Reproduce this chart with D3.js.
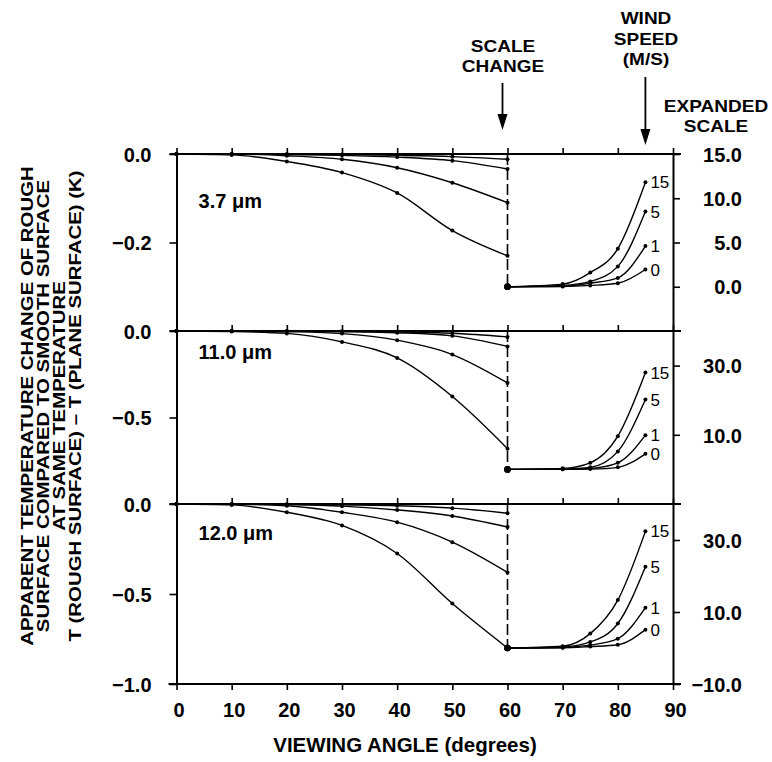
<!DOCTYPE html>
<html>
<head>
<meta charset="utf-8">
<script src="https://cdn.jsdelivr.net/npm/d3@7"></script>
<style>
  body { margin: 0; background: #fff; }
  svg { font-family: "Liberation Sans", Arial, Helvetica, sans-serif; }
</style>
</head>
<body>
<div id="chart"></div>
<script>
// Viewing angles (degrees): normal scale up to 60, expanded scale after
var anglesLeft = [0, 10, 20, 30, 40, 50, 60];
var anglesRight = [60, 70, 75, 80, 85];
var windSpeeds = ["0", "1", "5", "15"];
var bandNames = ["3.7 \u03bcm", "11.0 \u03bcm", "12.0 \u03bcm"];
var xTicks = [0, 10, 20, 30, 40, 50, 60, 70, 80, 90];

// T(rough) - T(plane) in K, one row per wind speed (0, 1, 5, 15 m/s)
var left37 = [
  [0, 0, 0, -0.001, -0.003, -0.006, -0.012],
  [0, 0, -0.001, -0.003, -0.007, -0.015, -0.034],
  [0, 0, -0.004, -0.012, -0.031, -0.065, -0.11],
  [0, -0.002, -0.017, -0.042, -0.088, -0.173, -0.23]
];
var right37 = [
  [0, 0.02, 0.15, 0.4, 1.95],
  [0, 0.05, 0.4, 1.0, 4.6],
  [0, 0.15, 0.6, 2.3, 8.5],
  [0, 0.3, 1.6, 4.3, 11.8]
];
var left11 = [
  [0, 0, 0, -0.002, -0.005, -0.013, -0.034],
  [0, 0, -0.001, -0.004, -0.01, -0.028, -0.089],
  [0, 0, -0.004, -0.015, -0.053, -0.136, -0.30],
  [0, -0.003, -0.014, -0.063, -0.156, -0.379, -0.68]
];
var right11 = [
  [0, 0.02, 0.1, 0.6, 4.5],
  [0, 0.05, 0.3, 1.9, 9.9],
  [0, 0.15, 0.6, 5.2, 20.2],
  [0, 0.3, 1.9, 9.6, 28]
];
var left12 = [
  [0, 0, -0.001, -0.005, -0.01, -0.023, -0.051],
  [0, 0, -0.003, -0.012, -0.033, -0.067, -0.128],
  [0, -0.001, -0.01, -0.046, -0.101, -0.212, -0.38],
  [0, -0.005, -0.046, -0.119, -0.275, -0.553, -0.8]
];
var right12 = [
  [0, 0.05, 0.4, 0.9, 5.1],
  [0, 0.15, 0.8, 2.6, 11.2],
  [0, 0.3, 1.7, 6.8, 22.6],
  [0, 0.5, 4.0, 13.3, 32.4]
];

// axis ticks
var leftTicks37 = [0, -0.2], rightTicks37 = [15, 10, 5, 0];
var leftTicks11 = [0, -0.5], rightTicks11 = [30, 10];
var leftTicks12 = [0, -0.5, -1.0], rightTicks12 = [30, 10, -10];

var panels = [
  {name: bandNames[0], left: left37, right: right37, leftDomain: [-0.4, 0], rightDomain: [-5, 15],
   leftTicks: leftTicks37, rightTicks: rightTicks37, top: 154, bottom: 331, labelAt: -0.122},
  {name: bandNames[1], left: left11, right: right11, leftDomain: [-1, 0], rightDomain: [-10, 40],
   leftTicks: leftTicks11, rightTicks: rightTicks11, top: 331, bottom: 504, labelAt: -0.162},
  {name: bandNames[2], left: left12, right: right12, leftDomain: [-1, 0], rightDomain: [-10, 40],
   leftTicks: leftTicks12, rightTicks: rightTicks12, top: 504, bottom: 684, labelAt: -0.2}
];

var svg = d3.select("#chart")
    .append("svg")
    .attr("width", 772)
    .attr("height", 762);

var x = d3.scaleLinear().domain([0, 90]).range([176.5, 673]);
var fmt = d3.format(".1f");

function styleAxis(g) {
  g.attr("font-family", null).attr("font-size", null);
  g.select(".domain").attr("stroke-width", 2);
  g.selectAll(".tick line").attr("stroke-width", 1.6);
  g.selectAll(".tick text")
    .attr("font-size", 20)
    .attr("font-weight", "bold")
    .attr("fill", "#000");
}

panels.forEach(function(p) {
  var yL = d3.scaleLinear().domain(p.leftDomain).range([p.bottom, p.top]);
  var yR = d3.scaleLinear().domain(p.rightDomain).range([p.bottom, p.top]);

  // top line of panel with upward ticks
  svg.append("g")
    .attr("transform", "translate(0," + p.top + ")")
    .call(d3.axisTop(x).tickValues(xTicks).tickSize(6).tickSizeOuter(0).tickFormat(""))
    .call(styleAxis)
    .call(g => g.select(".domain").remove());
  svg.append("line")
    .attr("x1", x(0) - 7).attr("x2", x(90) + 8)
    .attr("y1", p.top).attr("y2", p.top)
    .attr("stroke", "#000").attr("stroke-width", 2);

  // left axis (normal scale)
  svg.append("g")
    .attr("transform", "translate(" + x(0) + ",0)")
    .call(d3.axisLeft(yL).tickValues(p.leftTicks).tickSize(7).tickSizeOuter(0)
      .tickPadding(18).tickFormat(fmt))
    .call(styleAxis)
    .call(g => g.selectAll(".tick text").attr("dy", "0.36em"));

  // right axis (expanded scale)
  svg.append("g")
    .attr("transform", "translate(" + x(90) + ",0)")
    .call(d3.axisRight(yR).tickValues(p.rightTicks).tickSize(7).tickSizeOuter(0).tickFormat(fmt))
    .call(styleAxis)
    .call(g => g.selectAll(".tick text")
      .attr("x", 69)
      .attr("text-anchor", "end")
      .attr("dy", "0.36em"));

  // scale change line at 60 degrees
  svg.append("line")
    .attr("x1", x(60)).attr("x2", x(60))
    .attr("y1", p.top).attr("y2", yR(0))
    .attr("stroke", "#000")
    .attr("stroke-width", 1.6)
    .attr("stroke-dasharray", "11,4");

  var lineL = d3.line().curve(d3.curveMonotoneX)
    .x(d => x(d[0])).y(d => yL(d[1]));
  var lineR = d3.line().curve(d3.curveMonotoneX)
    .x(d => x(d[0])).y(d => yR(d[1]));

  windSpeeds.forEach(function(w, i) {
    var ptsL = anglesLeft.map((a, k) => [a, p.left[i][k]]);
    var ptsR = anglesRight.map((a, k) => [a, p.right[i][k]]);

    svg.append("path")
      .datum(ptsL)
      .attr("fill", "none")
      .attr("stroke", "#000")
      .attr("stroke-width", 1.4)
      .attr("d", lineL);
    svg.append("path")
      .datum(ptsR)
      .attr("fill", "none")
      .attr("stroke", "#000")
      .attr("stroke-width", 1.4)
      .attr("d", lineR);

    svg.selectAll(null)
      .data(ptsL)
      .enter()
      .append("circle")
        .attr("cx", d => x(d[0]))
        .attr("cy", d => yL(d[1]))
        .attr("r", 2);
    svg.selectAll(null)
      .data(ptsR)
      .enter()
      .append("circle")
        .attr("cx", d => x(d[0]))
        .attr("cy", d => yR(d[1]))
        .attr("r", (d, k) => k == 0 ? 3.2 : 2);

    // wind speed label at end of curve
    var last = ptsR[ptsR.length - 1];
    svg.append("text")
      .attr("x", x(last[0]) + 5)
      .attr("y", yR(last[1]))
      .attr("dy", "0.36em")
      .attr("font-size", 17)
      .text(w);
  });

  // band label
  svg.append("text")
    .attr("x", x(4))
    .attr("y", yL(p.labelAt))
    .attr("font-size", 20)
    .attr("font-weight", "bold")
    .text(p.name);
});

// bottom x axis
var yBottom = panels[2].bottom;
svg.append("g")
  .attr("transform", "translate(0," + yBottom + ")")
  .call(d3.axisBottom(x).tickValues(xTicks).tickSize(6).tickSizeOuter(0).tickFormat(d3.format("d")))
  .call(styleAxis)
  .call(g => g.select(".domain").remove())
  .call(g => g.selectAll(".tick text").attr("y", 33).attr("dy", null).attr("x", 2));
svg.append("line")
  .attr("x1", x(0) - 8).attr("x2", x(90) + 8)
  .attr("y1", yBottom).attr("y2", yBottom)
  .attr("stroke", "#000").attr("stroke-width", 2);

svg.append("text")
  .attr("x", 405)
  .attr("y", 752)
  .attr("text-anchor", "middle")
  .attr("font-size", 20.5)
  .attr("font-weight", "bold")
  .text("VIEWING ANGLE (degrees)");

// y axis title, four stacked lines
var yTitle = [
  "APPARENT TEMPERATURE CHANGE OF ROUGH",
  "SURFACE COMPARED TO SMOOTH SURFACE",
  "AT SAME TEMPERATURE",
  "T (ROUGH SURFACE) \u2013 T (PLANE SURFACE)  (K)"
];
yTitle.forEach(function(t, i) {
  svg.append("text")
    .attr("transform", "translate(" + (32.5 + i * 16.1) + ",406) rotate(-90) scale(1.2,1)")
    .attr("text-anchor", "middle")
    .attr("font-size", 17)
    .attr("font-weight", "bold")
    .text(t);
});

// annotations
function note(lines, cx, y0, dy) {
  lines.forEach(function(t, i) {
    svg.append("text")
      .attr("transform", "translate(" + cx + "," + (y0 + i * dy) + ") scale(1.12,1)")
      .attr("text-anchor", "middle")
      .attr("font-size", 17)
      .attr("font-weight", "bold")
      .text(t);
  });
}
function arrow(ax, y1, tip) {
  svg.append("line")
    .attr("x1", ax).attr("x2", ax)
    .attr("y1", y1).attr("y2", tip - 12)
    .attr("stroke", "#000").attr("stroke-width", 1.8);
  svg.append("path")
    .attr("d", "M" + (ax - 5) + "," + (tip - 16) + "L" + (ax + 5) + "," + (tip - 16) + "L" + ax + "," + tip + "Z")
    .attr("fill", "#000");
}

note(["SCALE", "CHANGE"], 503, 52, 20);
arrow(x(60) - 5, 83, 130);
note(["WIND", "SPEED", "(M/S)"], 646, 24, 20.5);
arrow(x(85), 77, 145);
note(["EXPANDED", "SCALE"], 716, 112, 20);
</script>
</body>
</html>
